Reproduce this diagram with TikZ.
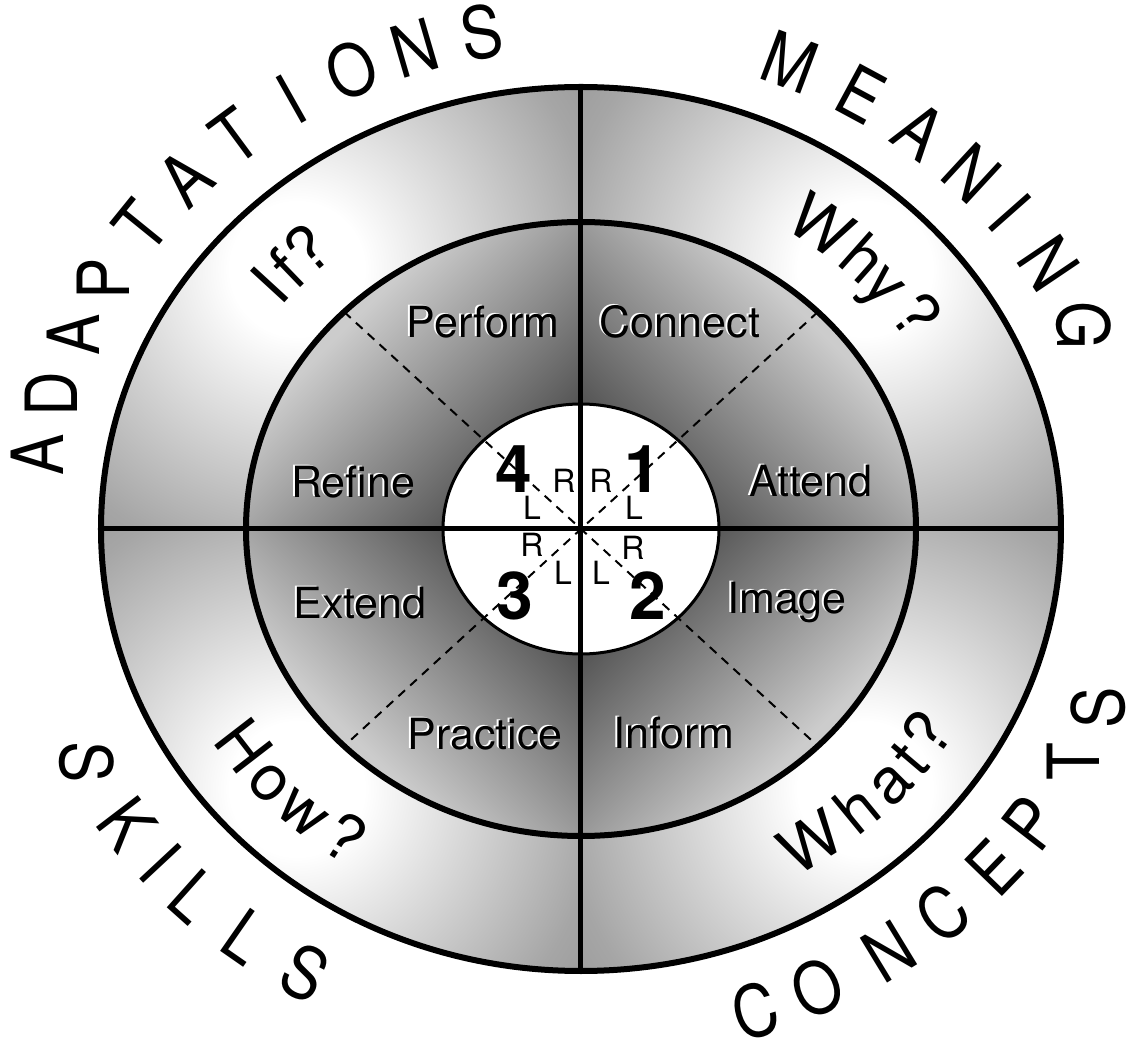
\documentclass[tikz,border=0pt]{standalone}
\usepackage{fontspec}
\setmainfont{TeX Gyre Heros}
\newfontfamily\ringfont{TeX Gyre Heros}[FakeStretch=0.86]
\usetikzlibrary{shadings}

% light spot in the outer band, dark-to-light depth in the middle band
\pgfdeclareradialshading{ringglow}{\pgfpoint{0bp}{0bp}}{%
  color(0bp)=(white); color(4bp)=(white); color(8bp)=(black!10);
  color(18bp)=(black!35); color(23bp)=(black!42); color(50bp)=(black!44)}
\pgfdeclarehorizontalshading{ringdepth}{100bp}{%
  color(0bp)=(black!18); color(30.6bp)=(black!20); color(44.4bp)=(black!67);
  color(50bp)=(black!70); color(55.6bp)=(black!67); color(69.4bp)=(black!20);
  color(100bp)=(black!18)}

\tikzset{
  rim/.style={line width=6},
  innerrim/.style={line width=3},
  crossline/.style={line width=5},
  diagline/.style={line width=2, dash pattern=on 9pt off 7pt},
  lbl/.style={font=\fontsize{43}{43}\selectfont, anchor=base, inner sep=0},
  num/.style={font=\fontsize{66}{66}\selectfont\bfseries, anchor=base, inner sep=0},
  side/.style={font=\fontsize{32}{32}\selectfont, anchor=base, inner sep=0},
  bigletter/.style={font=\ringfont\fontsize{72}{72}\selectfont, inner sep=0},
  qletter/.style={font=\fontsize{64}{64}\selectfont, anchor=base, inner sep=0}
}

% label with a thin white edge on its left
\newcommand\embossed[3]{%
  \node[lbl, text=white, xshift=-2, yshift=1] at (#2) {#3};
  \node[lbl] (#1) at (#2) {#3};}

\begin{document}
\begin{tikzpicture}[x=1pt, y=1pt]
    \useasboundingbox (-581,-528) rectangle (563,529);

    % shaded bands, one quadrant at a time
    \foreach \sx/\sy/\ang in {1/1/45, -1/1/135, -1/-1/45, 1/-1/135}{
        \begin{scope}
            \clip (0,0) rectangle (\sx*500,\sy*500);
            \begin{scope}
                \clip (0,0) ellipse [x radius=480, y radius=442];
                \shade[shading=ringglow] (\sx*284,\sy*260) circle [radius=420];
            \end{scope}
            \begin{scope}
                \clip (0,0) ellipse [x radius=335, y radius=307];
                \shade[shading=ringdepth, shading angle=\ang] (0,0) circle [radius=400];
            \end{scope}
        \end{scope}
    }
    \fill[white] (0,0) ellipse [x radius=138, y radius=125];

    \coordinate (ne) at (45:335 and 307);
    \coordinate (nw) at (135:335 and 307);
    \coordinate (sw) at (225:335 and 307);
    \coordinate (se) at (315:335 and 307);
    \coordinate (top) at (0,442);
    \coordinate (bottom) at (0,-442);
    \coordinate (left) at (-480,0);
    \coordinate (right) at (480,0);

    \draw[diagline] (ne) -- (sw);
    \draw[diagline] (nw) -- (se);
    \draw[crossline] (top) -- (bottom);
    \draw[crossline] (left) -- (right);

    \draw[rim] (0,0) ellipse [x radius=480, y radius=442];
    \draw[rim] (0,0) ellipse [x radius=335, y radius=307];
    \draw[innerrim] (0,0) ellipse [x radius=138, y radius=125];

    % middle band
    \embossed{perform}{-98,191}{Perform}
    \embossed{connect}{99,191}{Connect}
    \embossed{refine}{-228,31}{Refine}
    \embossed{attend}{230,32}{Attend}
    \embossed{extend}{-221,-90}{Extend}
    \embossed{image}{206,-85}{Image}
    \embossed{practice}{-96,-221}{Practice}
    \embossed{inform}{93,-220}{Inform}

    % centre
    \node[num] (n4) at (-67,36) {4};
    \node[num] (n1) at (62,36) {1};
    \node[num] (n3) at (-66,-91) {3};
    \node[num] (n2) at (67,-91) {2};
    \node[side] (r4) at (-17,36) {R};
    \node[side] (l4) at (-49,9) {L};
    \node[side] (r1) at (20,36) {R};
    \node[side] (l1) at (53,9) {L};
    \node[side] (r3) at (-49,-28) {R};
    \node[side] (l3) at (-18,-56) {L};
    \node[side] (r2) at (52,-31) {R};
    \node[side] (l2) at (20,-56) {L};

    % words round the outside
    \foreach \ch/\t [count=\i] in {A/171.6,D/164.5,A/157.4,P/150.3,T/143.2,A/136.0,T/128.9,I/121.8,O/114.7,N/107.6,S/100.4}
        \node[bigletter, rotate={atan2(sin(\t)/505,cos(\t)/550)-90}] (adapt\i) at (\t:550 and 505) {\ch};
    \foreach \ch/\t [count=\i] in {M/67.7,E/59.4,A/52.0,N/44.7,I/38.8,N/31.7,G/23.8}
        \node[bigletter, rotate={atan2(sin(\t)/505,cos(\t)/550)-90}] (mean\i) at (\t:550 and 505) {\ch};
    \foreach \ch/\t [count=\i] in {S/207.2,K/215.2,I/220.8,L/225.9,L/232.9,S/240.2}
        \node[bigletter, rotate={atan2(sin(\t)/511,cos(\t)/556)+90}] (skill\i) at (\t:556 and 511) {\ch};
    \foreach \ch/\t [count=\i] in {C/288.4,O/295.3,N/303.8,C/310.8,E/318.3,P/324.6,T/332.8,S/339.4}
        \node[bigletter, rotate={atan2(sin(\t)/508,cos(\t)/553)+90}] (conc\i) at (\t:553 and 508) {\ch};

    % questions in the outer band
    \foreach \ch/\t [count=\i] in {I/139.8,f/136.3,?/132.2}
        \node[qletter, rotate={atan2(sin(\t)/353,cos(\t)/385)-90}] (if\i) at (\t:385 and 353) {\ch};
    \foreach \ch/\t [count=\i] in {W/53.8,h/45.9,y/40.9,?/34.6}
        \node[qletter, rotate={atan2(sin(\t)/353,cos(\t)/385)-90}] (why\i) at (\t:385 and 353) {\ch};
    \foreach \ch/\t [count=\i] in {H/215.3,o/221.9,w/228.3,?/235.3}
        \node[qletter, rotate={atan2(sin(\t)/399,cos(\t)/436)+90}] (how\i) at (\t:436 and 399) {\ch};
    \foreach \ch/\t [count=\i] in {W/303.6,h/311.8,a/317.9,t/322.3,?/326.9}
        \node[qletter, rotate={atan2(sin(\t)/399,cos(\t)/436)+90}] (what\i) at (\t:436 and 399) {\ch};
\end{tikzpicture}
\end{document}
